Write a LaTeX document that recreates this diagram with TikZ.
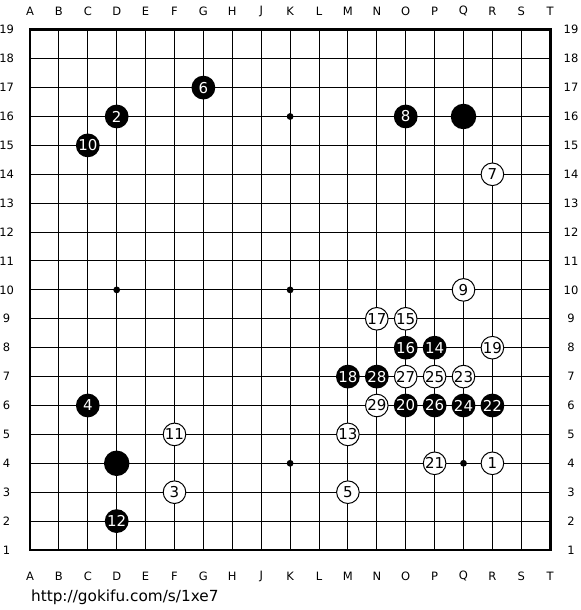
\documentclass[tikz,border=0pt]{standalone}
\usepackage{fontspec}
\setmainfont{DejaVu Sans}
\usepackage{tikz}
\usetikzlibrary{positioning, calc}
\usepackage{xcolor}
\definecolor{StoneBlack}{RGB}{0, 0, 0}
\definecolor{BoardLine}{RGB}{0, 0, 0}
\definecolor{BoardBg}{RGB}{255, 255, 255}

\begin{document}
\begin{tikzpicture}[
    x=28.9pt, y=28.9pt,
    gridline/.style={draw=BoardLine, line width=1pt},
    frame/.style={draw=BoardLine, line width=2.8pt},
    coord/.style={font=\fontsize{11.5}{11.5}\selectfont, inner sep=0pt},
    hoshi/.style={circle, fill=BoardLine, minimum size=6.8pt, inner sep=0pt},
    bstone/.style={circle, fill=StoneBlack, text=white, minimum size=23.8pt, inner sep=0pt, font=\fontsize{15}{15}\selectfont},
    wstone/.style={circle, draw=BoardLine, line width=1pt, fill=white, text=black, minimum size=22.6pt, inner sep=0pt, font=\fontsize{15}{15}\selectfont},
    bigstone/.style={circle, fill=StoneBlack, minimum size=25.5pt, inner sep=0pt}
]
\useasboundingbox[fill=BoardBg] (-1.038,-2.076) rectangle (19.031,19.031);
% board
\foreach \i in {1,...,17} {
    \draw[gridline] (\i,0) -- (\i,18);
    \draw[gridline] (0,\i) -- (18,\i);
}
\draw[frame] (0,0) rectangle (18,18);
\foreach \c [count=\i from 0] in {A,B,C,D,E,F,G,H,J,K,L,M,N,O,P,Q,R,S,T} {
    \node[coord] (top\c) at (\i,18.65) {\c};
    \node[coord] (bot\c) at (\i,-0.9) {\c};
}
\foreach \r in {1,...,19} {
    \node[coord] (left\r) at (-0.81,\r-1) {\r};
    \node[coord] (right\r) at (18.72,\r-1) {\r};
}
\foreach \p [count=\k] in {{9,15},{3,9},{9,9},{9,3},{15,3}}
    \node[hoshi] (star\k) at (\p) {};
% black stones
\node[bigstone] (bQ16) at (15,15) {};
\node[bigstone] (bD4) at (3,3) {};
\node[bstone] (m2) at (3,15) {2};
\node[bstone] (m4) at (2,5) {4};
\node[bstone] (m6) at (6,16) {6};
\node[bstone] (m8) at (13,15) {8};
\node[bstone] (m10) at (2,14) {10};
\node[bstone] (m12) at (3,1) {12};
\node[bstone] (m14) at (14,7) {14};
\node[bstone] (m16) at (13,7) {16};
\node[bstone] (m18) at (11,6) {18};
\node[bstone] (m20) at (13,5) {20};
\node[bstone] (m22) at (16,5) {22};
\node[bstone] (m24) at (15,5) {24};
\node[bstone] (m26) at (14,5) {26};
\node[bstone] (m28) at (12,6) {28};
% white stones
\node[wstone] (m1) at (16,3) {1};
\node[wstone] (m3) at (5,2) {3};
\node[wstone] (m5) at (11,2) {5};
\node[wstone] (m7) at (16,13) {7};
\node[wstone] (m9) at (15,9) {9};
\node[wstone] (m11) at (5,4) {11};
\node[wstone] (m13) at (11,4) {13};
\node[wstone] (m15) at (13,8) {15};
\node[wstone] (m17) at (12,8) {17};
\node[wstone] (m19) at (16,7) {19};
\node[wstone] (m21) at (14,3) {21};
\node[wstone] (m23) at (15,6) {23};
\node[wstone] (m25) at (14,6) {25};
\node[wstone] (m27) at (13,6) {27};
\node[wstone] (m29) at (12,5) {29};
\node[anchor=base west, inner sep=0pt, font=\fontsize{15.3}{15.3}\selectfont] (url) at (0.03,-1.765) {http://gokifu.com/s/1xe7};
\end{tikzpicture}
\end{document}
